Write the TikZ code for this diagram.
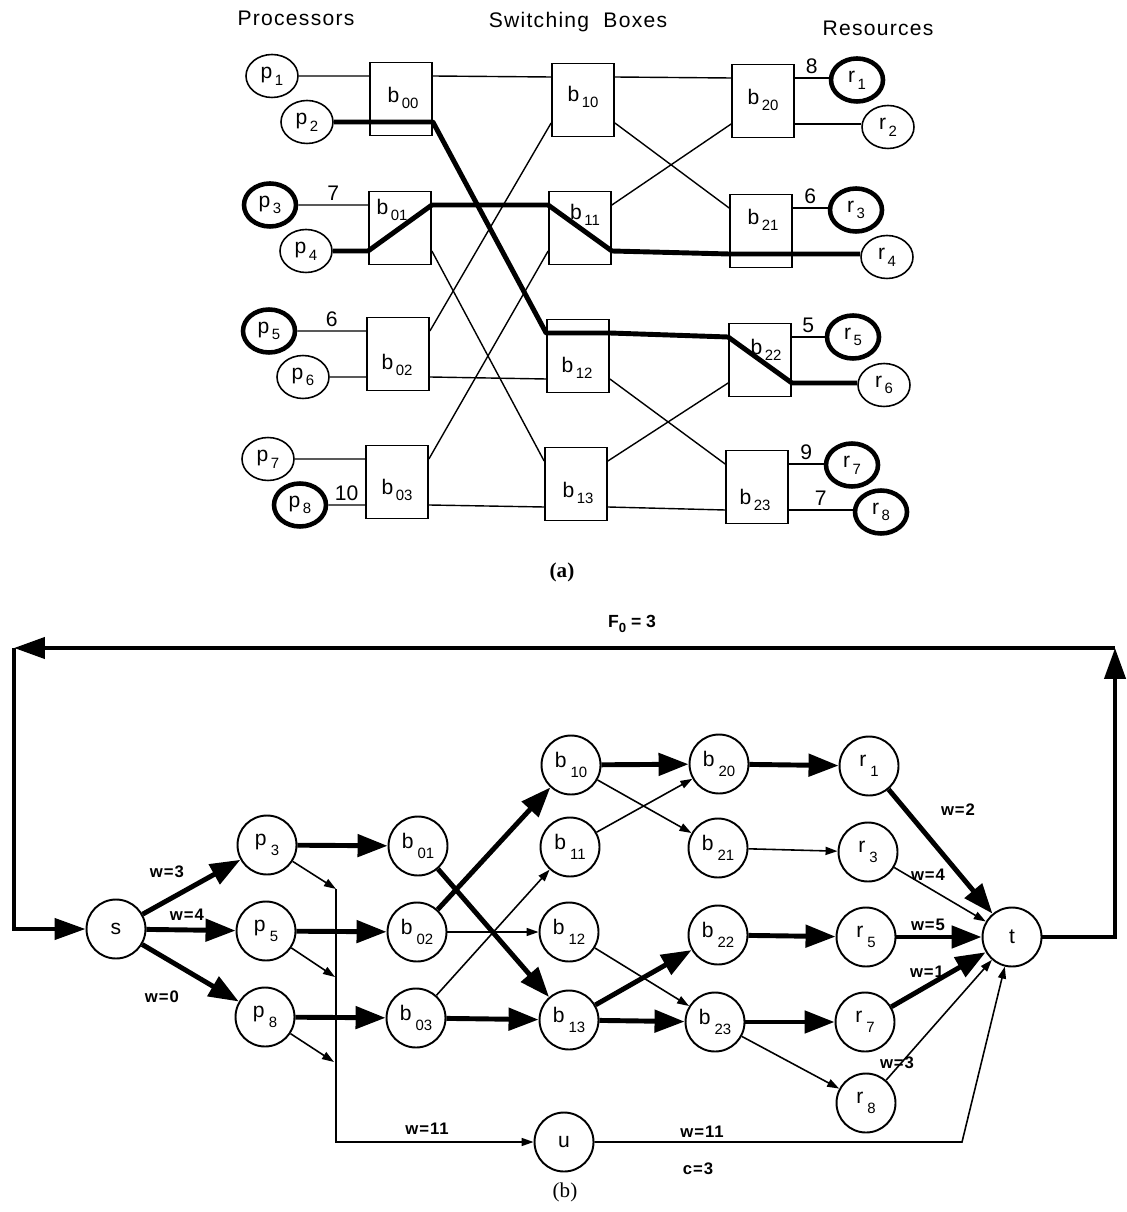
\documentclass[tikz,border=0pt]{standalone}
\usepackage{fontspec}
\setmainfont{Liberation Sans}
\newfontfamily\capfont{Liberation Serif}
\usetikzlibrary{positioning, arrows.meta, shapes.geometric}

\newcommand{\idx}[2]{#1\raisebox{-.6ex}{\fontsize{8.5}{9}\selectfont\,#2}}
\newcommand{\vtx}[2]{#1\raisebox{-.9ex}{\fontsize{8.5}{9}\selectfont\ #2}}

\begin{document}
\begin{tikzpicture}[x=0.02cm, y=-0.02cm,
    every node/.style={font=\fontsize{12}{14}\selectfont},
    proc/.style={draw, ellipse, line width=0.9pt, minimum width=1.04cm, minimum height=0.86cm, inner sep=0pt},
    busy/.style={proc, line width=2.6pt},
    swbox/.style={draw, rectangle, line width=1pt, minimum width=1.24cm, minimum height=1.46cm},
    wire/.style={line width=0.8pt},
    route/.style={line width=2.8pt, line join=round},
    vert/.style={draw, circle, line width=1.1pt, minimum size=1.18cm, inner sep=0pt},
    fat/.style={line width=2.8pt, -{Triangle[length=0.6cm, width=0.44cm]}},
    slim/.style={line width=0.9pt, -{Triangle[length=0.24cm, width=0.16cm]}},
    loopline/.style={line width=2.4pt, -{Triangle[length=0.62cm, width=0.42cm]}},
    wt/.style={font=\bfseries\fontsize{9.5}{11}\selectfont\addfontfeatures{LetterSpace=6}, inner sep=1pt},
    num/.style={above, inner sep=2pt}]

    \useasboundingbox (0,0) rectangle (1126,1212);

    % (a) column titles
    \node (titleP) at (296,18) {\addfontfeatures{LetterSpace=6}Processors};
    \node (titleB) at (578,22) {\addfontfeatures{LetterSpace=6}Switching\ \ Boxes};
    \node (titleR) at (878,28) {\addfontfeatures{LetterSpace=6}Resources};

    % (a) switching boxes with their two ports on each side
    \foreach \n/\x/\y in {00/401/99, 01/400/228, 02/398/354, 03/397/482,
                          10/583/100, 11/580/228, 12/578/356, 13/576/484,
                          20/763/101, 21/761/231, 22/760/360, 23/757/487} {
        \node[swbox] (box\n) at (\x,\y) {};
        \coordinate (box\n-ia) at ([yshift=0.46cm]box\n.west);
        \coordinate (box\n-ib) at ([yshift=-0.46cm]box\n.west);
        \coordinate (box\n-oa) at ([yshift=0.46cm]box\n.east);
        \coordinate (box\n-ob) at ([yshift=-0.46cm]box\n.east);
    }
    \foreach \n/\x/\y in {00/403/98, 01/392/210, 02/397/365, 03/397/490,
                          10/583/97, 11/585/215, 12/577/368, 13/578/493,
                          20/763/100, 21/763/220, 22/766/350, 23/755/500}
        \node (lbox\n) at (\x,\y) {\idx{b}{\n}};

    % (a) processors and resources
    \foreach \n/\x/\y/\s in {1/272/76/proc, 2/307/122/proc, 3/270/205/busy, 4/306/251/proc,
                             5/269/331/busy, 6/303/377/proc, 7/268/459/proc, 8/300/505/busy}
        \node[\s] (proc\n) at (\x,\y) {\idx{p}{\n}};
    \foreach \n/\x/\y/\s in {1/857/80/busy, 2/888/127/proc, 3/856/210/busy, 4/887/257/proc,
                             5/853/337/busy, 6/884/385/proc, 7/852/465/busy, 8/881/512/busy}
        \node[\s] (res\n) at (\x,\y) {\idx{r}{\n}};

    % (a) wires
    \draw[wire] (proc1) -- (box00-ia);
    \draw[wire] (proc3) -- node[num] (q3) {7} (box01-ia);
    \draw[wire] (proc5) -- node[num] (q5) {6} (box02-ia);
    \draw[wire] (proc6) -- (box02-ib);
    \draw[wire] (proc7) -- (box03-ia);
    \draw[wire] (proc8) -- node[num] (q8) {10} (box03-ib);
    \draw[wire] (box00-oa) -- (box10-ia);
    \draw[wire] (box10-oa) -- (box20-ia);
    \draw[wire] (box10-ob) -- (box21-ia);
    \draw[wire] (box11-oa) -- (box20-ib);
    \draw[wire] (box01-ob) -- (box13-ia);
    \draw[wire] (box02-oa) -- (box10-ib);
    \draw[wire] (box03-oa) -- (box11-ib);
    \draw[wire] (box02-ob) -- (box12-ib);
    \draw[wire] (box12-ob) -- (box23-ia);
    \draw[wire] (box13-oa) -- (box22-ib);
    \draw[wire] (box03-ob) -- (box13-ib);
    \draw[wire] (box13-ob) -- (box23-ib);
    \draw[wire] (box20-oa) -- node[num] (d1) {8} (box20-oa -| res1.west);
    \draw[wire] (box20-ob) -- (box20-ob -| res2.west);
    \draw[wire] (box21-oa) -- node[num] (d3) {6} (box21-oa -| res3.west);
    \draw[wire] (box22-oa) -- node[num] (d5) {5} (box22-oa -| res5.west);
    \draw[wire] (box23-oa) -- node[num] (d7) {9} (box23-oa -| res7.west);
    \draw[wire] (box23-ob) -- node[num] (d8) {7} (box23-ob -| res8.west);

    % (a) established routes
    \draw[route] (proc2) -- (box00-ib) -- (box00-ob) -- (box12-ia) -- (box12-oa)
        -- (box22-ia) -- (box22-ob) -- (box22-ob -| res6.west);
    \draw[route] (proc4) -- (box01-ib) -- (box01-oa) -- (box11-ia) -- (box11-ob)
        -- (box21-ib) -- (box21-ob) -- (box21-ob -| res4.west);

    \node (capA) at (562,572) {\capfont\bfseries (a)};

    % (b) flow network
    \node[vert] (s) at (116,929) {s};
    \node[vert] (t) at (1012,937) {t};
    \node[vert] (u) at (564,1142) {u};
    \foreach \n/\x/\y in {3/267/845, 5/266/931, 8/265/1017}
        \node[vert] (p\n) at (\x,\y) {\vtx{p}{\n}};
    \foreach \n/\x/\y in {01/418/846, 02/417/932, 03/416/1018,
                          10/571/765, 11/570/847, 12/569/932, 13/569/1020,
                          20/719/764, 21/718/848, 22/718/935, 23/715/1022}
        \node[vert] (b\n) at (\x,\y) {\vtx{b}{\n}};
    \foreach \n/\x/\y in {1/869/766, 3/868/852, 5/866/937, 7/865/1022, 8/866/1103}
        \node[vert] (r\n) at (\x,\y) {\vtx{r}{\n}};

    \coordinate (loopR) at (1115,648);
    \coordinate (loopL) at (14,648);
    \coordinate (col3) at (336,889);
    \coordinate (col5) at (335,977);
    \coordinate (col8) at (334,1062);
    \coordinate (bend) at (962,1142);

    \draw[fat] (s) -- (p3);
    \draw[fat] (s) -- (p5);
    \draw[fat] (s) -- (p8);
    \draw[fat] (p3) -- (b01);
    \draw[fat] (p5) -- (b02);
    \draw[fat] (p8) -- (b03);
    \draw[slim] (p3) -- (col3);
    \draw[slim] (p5) -- (col5);
    \draw[slim] (p8) -- (col8);
    \draw[slim] (col3) |- (u);
    \draw[fat] (b01) -- (b13);
    \draw[fat] (b02) -- (b10);
    \draw[fat] (b03) -- (b13);
    \draw[slim] (b02) -- (b12);
    \draw[slim] (b03) -- (b11);
    \draw[fat] (b10) -- (b20);
    \draw[fat] (b13) -- (b22);
    \draw[fat] (b13) -- (b23);
    \draw[slim] (b10) -- (b21);
    \draw[slim] (b11) -- (b20);
    \draw[slim] (b12) -- (b23);
    \draw[fat] (b20) -- (r1);
    \draw[fat] (b22) -- (r5);
    \draw[fat] (b23) -- (r7);
    \draw[slim] (b21) -- (r3);
    \draw[slim] (b23) -- (r8);
    \draw[fat] (r1) -- (t);
    \draw[fat] (r5) -- (t);
    \draw[fat] (r7) -- (t);
    \draw[slim] (r3) -- (t);
    \draw[slim] (r8) -- (t);
    \draw[slim] (u) -- (bend) -- (t);

    % return arc
    \draw[loopline] (t) -| (loopR);
    \draw[loopline] (loopR) -- (loopL);
    \draw[loopline] (loopL) |- (s);

    % weights
    \node[wt] (ws3) at (167,872) {w=3};
    \node[wt] (ws5) at (187,915) {w=4};
    \node[wt] (ws8) at (162,997) {w=0};
    \node[wt] (wr1) at (958,810) {w=2};
    \node[wt] (wr3) at (928,875) {w=4};
    \node[wt] (wr5) at (928,925) {w=5};
    \node[wt] (wr7) at (927,972) {w=1};
    \node[wt] (wr8) at (897,1063) {w=3};
    \node[wt] (wu1) at (427,1129) {w=11};
    \node[wt] (wu2) at (702,1132) {w=11};
    \node[wt] (cu) at (698,1169) {c=3};
    \node[wt, font=\bfseries\fontsize{10}{11}\selectfont] (flow) at (632,624) {F\raisebox{-.5ex}{\fontsize{7.5}{8}\selectfont 0} = 3};

    \node (capB) at (565,1192) {\capfont (b)};

\end{tikzpicture}
\end{document}
